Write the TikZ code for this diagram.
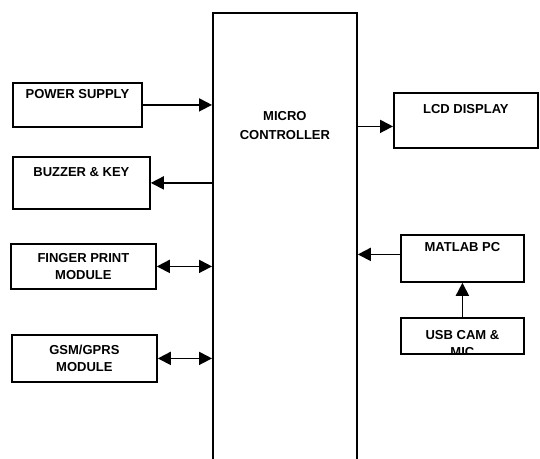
\documentclass[tikz,border=0pt]{standalone}
\usepackage{fontspec}
\setmainfont{Liberation Sans}
\usetikzlibrary{
  arrows.meta,
  positioning
}
\tikzset{
  blk/.style={
    draw, line width=1.8pt, anchor=north west, align=center, inner sep=2pt,
    font=\bfseries\fontsize{13}{17}\selectfont
  },
  mcu/.style={draw, line width=1.8pt, anchor=north west, minimum width=144pt, minimum height=480pt},
  txt/.style={font=\bfseries\fontsize{13}{19}\selectfont, align=center},
  sig/.style={-{Triangle[length=13pt, width=13pt]}, line width=1.8pt},
  bus/.style={{Triangle[length=13pt, width=13pt]}-{Triangle[length=13pt, width=13pt]}, line width=1.8pt}
}
\begin{document}
\begin{tikzpicture}[x=1pt, y=-1pt]
  \useasboundingbox (0,0) rectangle (540,458);
  \clip (0,0) rectangle (540,458);
  \node[mcu] (mc) at (212,12) {};
  \node[txt, below=96pt of mc.north] (mctxt) {MICRO\\CONTROLLER};
  \node[blk, minimum width=129pt, minimum height=44pt] (ps) at (12,82) {POWER SUPPLY\\\strut};
  \node[blk, minimum width=137pt, minimum height=52pt] (bk) at (12,156) {BUZZER \& KEY\\\strut};
  \node[blk, minimum width=145pt, minimum height=45pt] (fp) at (10,243) {FINGER PRINT\\MODULE};
  \node[blk, minimum width=145pt, minimum height=47pt] (gsm) at (11,334) {GSM/GPRS\\MODULE};
  \node[blk, minimum width=144pt, minimum height=55pt] (lcd) at (393,92) {LCD DISPLAY\\\strut};
  \node[blk, minimum width=123pt, minimum height=47pt] (pc) at (400,234) {MATLAB PC\\\strut};
  \node[blk, minimum width=123pt, minimum height=36pt] (usb) at (400,317) {};
  \begin{scope}
    \clip (usb.north west) rectangle (usb.south east);
    \node[txt, below=10pt of usb.north, font=\bfseries\fontsize{13}{17}\selectfont] (usbtxt) {USB CAM \&\\MIC};
  \end{scope}
  \coordinate (lcdin) at ([yshift=-6pt]lcd.west);
  \coordinate (pcout) at ([yshift=4pt]pc.west);
  \draw[sig] (ps.east) -- (ps.east -| mc.west);
  \draw[sig] (bk.east -| mc.west) -- (bk.east);
  \draw[bus] (fp.east) -- (fp.east -| mc.west);
  \draw[bus] (gsm.east) -- (gsm.east -| mc.west);
  \draw[sig] (lcdin -| mc.east) -- (lcdin);
  \draw[sig] (pcout) -- (pcout -| mc.east);
  \draw[sig] (usb.north) -- (pc.south);
\end{tikzpicture}
\end{document}
